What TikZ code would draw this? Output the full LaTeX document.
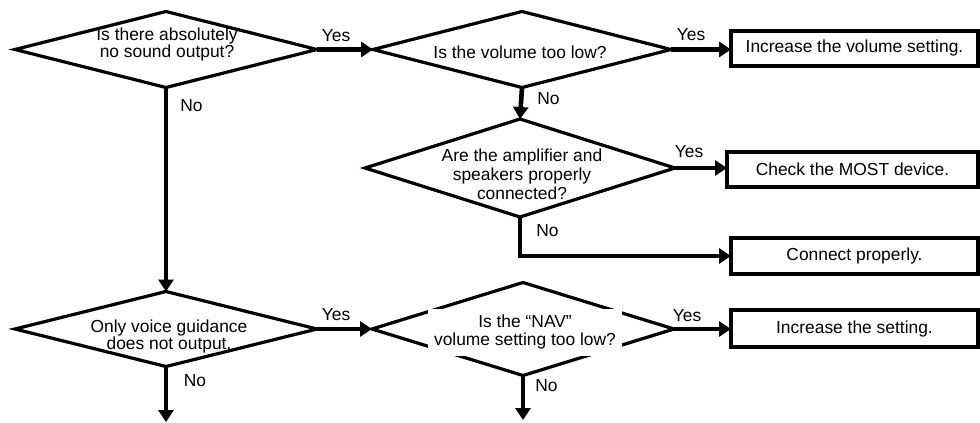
\documentclass[tikz,border=0pt]{standalone}
\usepackage{fontspec}
\setmainfont{Liberation Sans}
\usetikzlibrary{shapes.geometric,arrows.meta}
\begin{document}
\begin{tikzpicture}[x=1pt,y=-1pt,
  every node/.style={font=\fontsize{17.4}{17}\selectfont},
  decision/.style={diamond, draw, line width=3.2pt, inner sep=0pt, outer sep=0pt},
  action/.style={draw, line width=3.2pt, inner sep=0pt, outer sep=0pt,
                 minimum width=247pt, minimum height=35pt},
  question/.style={align=center, inner sep=0pt, anchor=base},
  answer/.style={inner sep=0pt},
  flow/.style={line width=4.6pt, -{Triangle[length=12pt,width=15pt]}}
]
\useasboundingbox (0,0) rectangle (980,423);

% decision diamonds
\node[decision, minimum width=302pt, minimum height=76pt] (d1) at (166,49.5) {};
\node[decision, minimum width=298pt, minimum height=76pt] (d2) at (522,49.5) {};
\node[decision, minimum width=310pt, minimum height=98pt] (d3) at (520,168) {};
\node[decision, minimum width=302pt, minimum height=75pt] (d4) at (166,329) {};
\node[decision, minimum width=302pt, minimum height=93pt] (d5) at (523,329) {};

% action boxes
\node[action] (b1) at (854.5,48.5) {Increase the volume setting.};
\node[action, minimum width=251pt] (b2) at (852.5,169.5) {Check the MOST device.};
\node[action, minimum height=36pt] (b3) at (854.5,256) {Connect properly.};
\node[action, minimum height=37pt] (b4) at (854.5,328.5) {Increase the setting.};

% questions (base anchor sits on the last line)
\node[question, font=\fontsize{17.4}{15}\selectfont] (q1) at (167,57.5)
  {Is there absolutely\\no sound output?};
\node[question] (q2) at (520,58) {Is the volume too low?};
\node[question, font=\fontsize{17.4}{19}\selectfont] (q3) at (522,199.5)
  {Are the amplifier and\\speakers properly\\connected?};
\node[question] (q4) at (169,349.5) {Only voice guidance\\does not output.};
% this one is backed by a white panel that breaks the diamond outline
\node[align=center, inner sep=0pt, fill=white, minimum width=194pt,
      minimum height=47pt, font=\fontsize{17.4}{18.5}\selectfont] (q5) at (525,332)
  {Is the “NAV”\\volume setting too low?};

% branch labels
\node[answer] (y1) at (336,36) {Yes};
\node[answer] (y2) at (691,35) {Yes};
\node[answer] (y3) at (689,152) {Yes};
\node[answer] (y4) at (336,315) {Yes};
\node[answer] (y5) at (687,316) {Yes};
\node[answer] (n1) at (191.5,106) {No};
\node[answer] (n2) at (548.5,99) {No};
\node[answer] (n3) at (547.5,231) {No};
\node[answer] (n4) at (195,381) {No};
\node[answer] (n5) at (546.5,386) {No};

% loose ends at the bottom
\coordinate (e1) at (166,422);
\coordinate (e2) at (523,420);

% connectors
\draw[flow] (d1.east) -- (d2.west);
\draw[flow] (d2.east) -- (d2.east -| b1.west);
\draw[flow] (d2.south) -- (d3.north);
\draw[flow] (d3.east) -- (d3.east -| b2.west);
\draw[flow] (d3.south) |- (b3.west);
\draw[flow] (d1.south) -- (d4.north);
\draw[flow] (d4.east) -- (d5.west);
\draw[flow] (d5.east) -- (d5.east -| b4.west);
\draw[flow] (d4.south) -- (e1);
\draw[flow] (d5.south) -- (e2);
\end{tikzpicture}
\end{document}
